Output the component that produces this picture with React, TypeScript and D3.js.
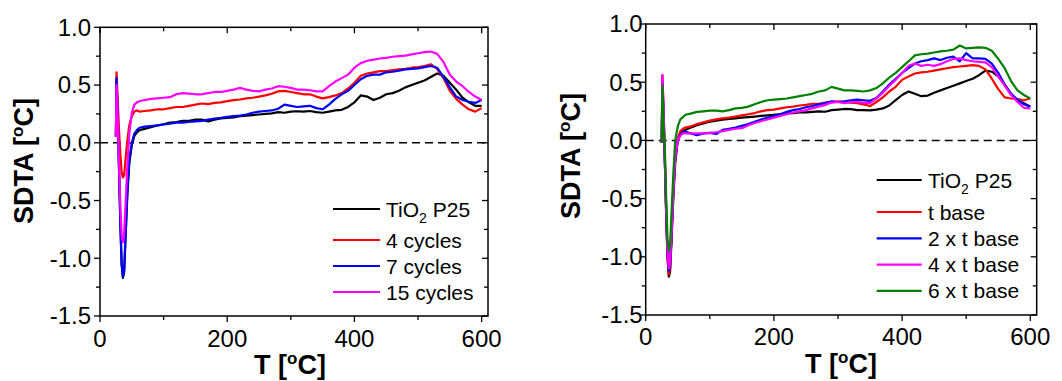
import React from 'react';
import * as d3 from 'd3';

// temperature grid (°C), shared by every curve
const temps = [
  25, 26, 28, 30, 32, 34, 36, 38, 40, 43, 46, 50, 54, 58, 62,
  70, 80, 90, 100, 110, 120, 130, 140, 150, 160,
  170, 180, 190, 200, 210, 220, 230, 240, 250, 260,
  270, 280, 290, 300, 310, 320, 330, 340, 350, 360,
  370, 380, 390, 400, 410, 420, 430, 440, 450, 460,
  470, 480, 490, 500, 510, 520, 530, 540, 550, 560,
  570, 580, 590, 600,
];

// left panel: SDTA (°C)
const leftP25 = [
  0.05, 0.55, 0.2, -0.25, -0.7, -1.05, -1.17, -1.12, -0.85, -0.45, -0.18, -0.02, 0.06, 0.09, 0.11,
  0.12, 0.135, 0.15, 0.16, 0.175, 0.18, 0.19, 0.19, 0.2, 0.2,
  0.185, 0.2, 0.21, 0.215, 0.22, 0.23, 0.235, 0.24, 0.245, 0.25,
  0.255, 0.265, 0.26, 0.27, 0.273, 0.27, 0.275, 0.265, 0.26, 0.27,
  0.28, 0.285, 0.31, 0.35, 0.41, 0.4, 0.37, 0.39, 0.42, 0.43,
  0.45, 0.48, 0.5, 0.52, 0.54, 0.57, 0.6, 0.58, 0.52, 0.46,
  0.39, 0.35, 0.32, 0.32,
];
const cycles4 = [
  0.05, 0.61, 0.35, 0.1, -0.1, -0.25, -0.3, -0.28, -0.15, 0.02, 0.15, 0.23, 0.27, 0.28, 0.27,
  0.275, 0.28, 0.29, 0.29, 0.3, 0.31, 0.31, 0.32, 0.33, 0.34,
  0.335, 0.345, 0.35, 0.36, 0.37, 0.375, 0.385, 0.39, 0.4, 0.41,
  0.425, 0.445, 0.45, 0.44, 0.43, 0.42, 0.42, 0.4, 0.385, 0.395,
  0.41, 0.43, 0.47, 0.52, 0.58, 0.6, 0.61, 0.62, 0.62, 0.63,
  0.635, 0.64, 0.65, 0.655, 0.665, 0.68, 0.64, 0.56, 0.45, 0.38,
  0.33, 0.29, 0.27, 0.3,
];
const cycles7 = [
  0.05, 0.56, 0.2, -0.25, -0.7, -1.05, -1.16, -1.1, -0.82, -0.42, -0.15, 0.0, 0.08, 0.11, 0.13,
  0.14, 0.145, 0.15, 0.16, 0.165, 0.175, 0.175, 0.18, 0.185, 0.19,
  0.2, 0.21, 0.215, 0.225, 0.23, 0.235, 0.245, 0.26, 0.27, 0.275,
  0.28, 0.295, 0.33, 0.32, 0.31, 0.315, 0.32, 0.3, 0.29, 0.33,
  0.38, 0.42, 0.45, 0.5, 0.55, 0.58, 0.59, 0.59, 0.61, 0.615,
  0.625, 0.635, 0.64, 0.645, 0.655, 0.665, 0.65, 0.57, 0.48, 0.4,
  0.37, 0.355, 0.345, 0.37,
];
const cycles15 = [
  0.05, 0.5, 0.2, -0.2, -0.55, -0.8, -0.86, -0.78, -0.55, -0.2, 0.08, 0.26, 0.33, 0.35, 0.36,
  0.37, 0.38, 0.385, 0.39, 0.395, 0.42, 0.43, 0.425, 0.42, 0.42,
  0.43, 0.44, 0.44, 0.45, 0.46, 0.475, 0.46, 0.45, 0.445, 0.46,
  0.47, 0.49, 0.485, 0.475, 0.46, 0.46, 0.455, 0.445, 0.445, 0.49,
  0.53, 0.56, 0.59, 0.65, 0.69, 0.71, 0.72, 0.73, 0.735, 0.745,
  0.75, 0.755, 0.765, 0.775, 0.785, 0.79, 0.77, 0.7, 0.59, 0.53,
  0.49, 0.44, 0.4, 0.37,
];

// right panel: SDTA (°C)
const rightP25 = [
  -0.02, 0.45, 0.2, -0.2, -0.65, -1.0, -1.17, -1.13, -0.9, -0.5, -0.2, 0.0, 0.06, 0.08, 0.09,
  0.11, 0.13, 0.145, 0.16, 0.17, 0.178, 0.185, 0.19, 0.195, 0.2,
  0.205, 0.21, 0.215, 0.22, 0.225, 0.232, 0.235, 0.24, 0.24, 0.245,
  0.25, 0.246, 0.26, 0.265, 0.27, 0.268, 0.26, 0.26, 0.258, 0.265,
  0.275, 0.3, 0.346, 0.39, 0.42, 0.4, 0.38, 0.385, 0.41, 0.43,
  0.45, 0.47, 0.49, 0.51, 0.53, 0.56, 0.6, 0.59, 0.55, 0.48,
  0.4, 0.34, 0.32, 0.29,
];
const tBase1 = [
  -0.02, 0.56, 0.25, -0.2, -0.65, -1.0, -1.15, -1.1, -0.85, -0.45, -0.15, 0.02, 0.08, 0.1, 0.11,
  0.12, 0.14, 0.155, 0.17, 0.18, 0.19, 0.195, 0.205, 0.215, 0.225,
  0.235, 0.25, 0.26, 0.265, 0.275, 0.285, 0.29, 0.3, 0.305, 0.315,
  0.315, 0.325, 0.33, 0.335, 0.33, 0.325, 0.32, 0.31, 0.295, 0.33,
  0.37, 0.42, 0.46, 0.52, 0.55, 0.575, 0.585, 0.59, 0.6, 0.61,
  0.62, 0.63, 0.635, 0.64, 0.646, 0.64, 0.61, 0.53, 0.44, 0.37,
  0.36, 0.355, 0.345, 0.36,
];
const tBase2 = [
  -0.02, 0.5, 0.2, -0.2, -0.62, -0.98, -1.12, -1.08, -0.85, -0.45, -0.15, 0.0, 0.05, 0.07, 0.075,
  0.06, 0.045, 0.06, 0.065, 0.055, 0.09, 0.1, 0.11, 0.125, 0.14,
  0.16, 0.18, 0.195, 0.21, 0.225, 0.245, 0.26, 0.27, 0.285, 0.295,
  0.31, 0.32, 0.335, 0.33, 0.335, 0.345, 0.35, 0.345, 0.34, 0.365,
  0.42, 0.48, 0.53, 0.58, 0.62, 0.66, 0.68, 0.69, 0.705, 0.69,
  0.71, 0.72, 0.68, 0.75, 0.705, 0.705, 0.7, 0.66, 0.58, 0.48,
  0.4, 0.35, 0.31, 0.29,
];
const tBase4 = [
  -0.02, 0.56, 0.25, -0.18, -0.6, -0.95, -1.1, -1.06, -0.83, -0.45, -0.15, 0.0, 0.04, 0.06, 0.06,
  0.06, 0.06, 0.06, 0.065, 0.07, 0.08, 0.09, 0.1, 0.105, 0.13,
  0.15, 0.165, 0.18, 0.195, 0.21, 0.225, 0.24, 0.25, 0.26, 0.275,
  0.29, 0.305, 0.325, 0.33, 0.32, 0.33, 0.33, 0.325, 0.32, 0.36,
  0.41, 0.47, 0.52, 0.58, 0.64, 0.66, 0.64, 0.65, 0.64, 0.655,
  0.68, 0.7, 0.705, 0.69, 0.68, 0.675, 0.67, 0.63, 0.55, 0.47,
  0.39, 0.33, 0.28, 0.275,
];
const tBase6 = [
  -0.02, 0.47, 0.1, -0.1, -0.5, -0.85, -0.95, -0.9, -0.65, -0.3, 0.0, 0.12, 0.18, 0.2, 0.22,
  0.23, 0.245, 0.25, 0.255, 0.255, 0.25, 0.26, 0.275, 0.28, 0.29,
  0.31, 0.33, 0.345, 0.35, 0.355, 0.36, 0.37, 0.38, 0.39, 0.4,
  0.42, 0.43, 0.46, 0.445, 0.43, 0.43, 0.425, 0.42, 0.43, 0.45,
  0.49, 0.54, 0.58, 0.63, 0.68, 0.73, 0.74, 0.745, 0.755, 0.765,
  0.77, 0.78, 0.815, 0.79, 0.795, 0.8, 0.795, 0.77, 0.7, 0.62,
  0.51, 0.43, 0.39, 0.36,
];

const leftLabels = ['TiO2 P25', '4 cycles', '7 cycles', '15 cycles'];
const rightLabels = ['TiO2 P25', 't base', '2 x t base', '4 x t base', '6 x t base'];
const leftColors = ['#000000', '#ff0000', '#0000ff', '#ff00ff'];
const rightColors = ['#000000', '#ff0000', '#0000ff', '#ff00ff', '#008000'];

const xMajor = [0, 200, 400, 600];
const xMinor = [100, 300, 500];
const yMajor = [-1.5, -1.0, -0.5, 0.0, 0.5, 1.0];
const yMinor = [-1.25, -0.75, -0.25, 0.25, 0.75];

const FONT = '"Liberation Sans", Arial, sans-serif';

function Label({ text }) {
  if (text.startsWith('TiO2')) {
    return (
      <>
        <tspan>TiO</tspan>
        <tspan fontSize={14} dy={6}>2</tspan>
        <tspan dy={-6}>{text.slice(4)}</tspan>
      </>
    );
  }
  return <>{text}</>;
}

function Title({ text }) {
  // "[oC]" with raised small o
  return (
    <>
      <tspan>{text} [</tspan>
      <tspan fontSize={17} dy={-10}>o</tspan>
      <tspan dy={10}>C]</tspan>
    </>
  );
}

function Panel({ box, series, labels, colors, legend, yTitlePos, xTitlePos, labelGap, xLabelDy }) {
  const x = d3.scaleLinear().domain([0, 610]).range([box.left, box.right]);
  const y = d3.scaleLinear().domain([-1.5, 1.0]).range([box.bottom, box.top]);
  const line = d3.line<number>()
    .x((_, i) => x(temps[i]))
    .y((d) => y(d));

  const tk = 6;
  const mtk = 4;

  let rowY = legend.y;
  const rows = labels.map((lab, i) => {
    if (i === 1) rowY += legend.firstGap;
    else if (i > 1) rowY += legend.gap;
    return { lab, color: colors[i], y: rowY };
  });

  return (
    <g fontFamily={FONT}>
      {/* zero line */}
      <line x1={x(0)} x2={box.right} y1={y(0)} y2={y(0)}
        stroke="#000" strokeWidth={1.5} strokeDasharray="8,5" />

      {series.map((s, i) => (
        <path key={i} d={line(s) || ''} fill="none" stroke={colors[i]}
          strokeWidth={2.2} strokeLinejoin="round" />
      ))}

      {/* frame */}
      <rect x={box.left} y={box.top} width={box.right - box.left} height={box.bottom - box.top}
        fill="none" stroke="#000" strokeWidth={1.5} />

      {/* x ticks */}
      {xMajor.map((v) => (
        <g key={'xM' + v}>
          <line x1={x(v)} x2={x(v)} y1={box.bottom} y2={box.bottom + tk} stroke="#000" strokeWidth={1.3} />
          <line x1={x(v)} x2={x(v)} y1={box.top} y2={box.top + tk} stroke="#000" strokeWidth={1.3} />
          <text x={x(v)} y={box.bottom + xLabelDy} textAnchor="middle" fontSize={24}>{v}</text>
        </g>
      ))}
      {xMinor.map((v) => (
        <g key={'xm' + v}>
          <line x1={x(v)} x2={x(v)} y1={box.bottom} y2={box.bottom + mtk} stroke="#000" strokeWidth={1.3} />
          <line x1={x(v)} x2={x(v)} y1={box.top} y2={box.top + mtk} stroke="#000" strokeWidth={1.3} />
        </g>
      ))}

      {/* y ticks */}
      {yMajor.map((v) => (
        <g key={'yM' + v}>
          <line x1={box.left - tk} x2={box.left} y1={y(v)} y2={y(v)} stroke="#000" strokeWidth={1.3} />
          <line x1={box.right - tk} x2={box.right} y1={y(v)} y2={y(v)} stroke="#000" strokeWidth={1.3} />
          <text x={box.left - labelGap} y={y(v)} dy="0.35em" textAnchor="end" fontSize={24}>
            {v.toFixed(1)}
          </text>
        </g>
      ))}
      {yMinor.map((v) => (
        <g key={'ym' + v}>
          <line x1={box.left - mtk} x2={box.left} y1={y(v)} y2={y(v)} stroke="#000" strokeWidth={1.3} />
          <line x1={box.right - mtk} x2={box.right} y1={y(v)} y2={y(v)} stroke="#000" strokeWidth={1.3} />
        </g>
      ))}

      {/* axis titles */}
      <text transform={`translate(${yTitlePos[0]},${yTitlePos[1]}) rotate(-90)`}
        textAnchor="middle" fontSize={27} fontWeight="bold">
        <Title text="SDTA" />
      </text>
      <text x={xTitlePos[0]} y={xTitlePos[1]} textAnchor="middle" fontSize={27} fontWeight="bold">
        <Title text="T" />
      </text>

      {/* legend */}
      {rows.map((r) => (
        <g key={r.lab}>
          <line x1={legend.x0} x2={legend.x1} y1={r.y} y2={r.y} stroke={r.color} strokeWidth={2.2} />
          <text x={legend.tx} y={r.y} dy="0.36em" fontSize={21}>
            <Label text={r.lab} />
          </text>
        </g>
      ))}
    </g>
  );
}

export default function App() {
  return (
    <svg width={1062} height={381}
      style={{ position: 'absolute', left: 0, top: 0, background: '#fff' }}>
      <Panel
        box={{ left: 100, right: 488, top: 27.3, bottom: 316 }}
        series={[leftP25, cycles4, cycles7, cycles15]}
        labels={leftLabels}
        colors={leftColors}
        legend={{ x0: 333, x1: 380, tx: 386, y: 209, firstGap: 31, gap: 26 }}
        yTitlePos={[33, 161]}
        xTitlePos={[290, 374]}
        labelGap={9}
        xLabelDy={31}
      />
      <Panel
        box={{ left: 645.7, right: 1036.7, top: 24, bottom: 315 }}
        series={[rightP25, tBase1, tBase2, tBase4, tBase6]}
        labels={rightLabels}
        colors={rightColors}
        legend={{ x0: 876.7, x1: 921.7, tx: 928, y: 180, firstGap: 32, gap: 26.3 }}
        yTitlePos={[580, 156]}
        xTitlePos={[841, 373]}
        labelGap={3}
        xLabelDy={30}
      />
    </svg>
  );
}
